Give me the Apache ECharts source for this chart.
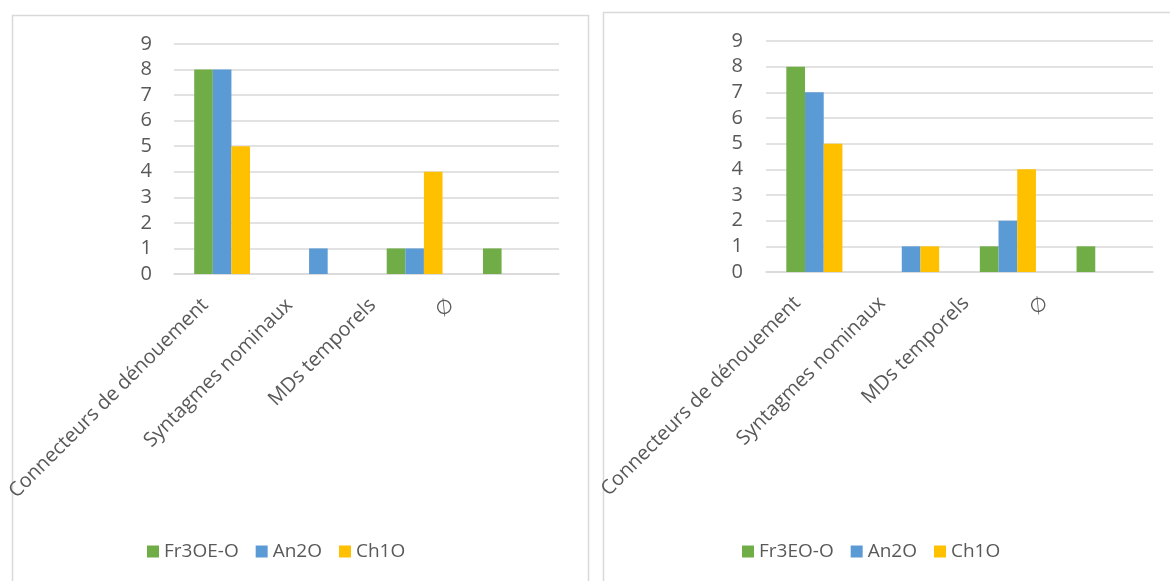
<!DOCTYPE html>
<html>
<head>
<meta charset="utf-8">
<script src="https://cdn.jsdelivr.net/npm/echarts@6/dist/echarts.min.js"></script>
<style>
html,body{margin:0;padding:0;background:#fff;}
#c{width:1170px;height:581px;}
</style>
</head>
<body>
<div id="c"></div>
<script>
// ---- data ----
const categories = ['Connecteurs de dénouement', 'Syntagmes nominaux', 'MDs temporels', '∅'];
const yTicks = [0, 1, 2, 3, 4, 5, 6, 7, 8, 9];

const leftNames = ['Fr3OE-O', 'An2O', 'Ch1O'];
const leftFr = [8, 0, 1, 1];
const leftAn = [8, 1, 1, 0];
const leftCh = [5, 0, 4, 0];

const rightNames = ['Fr3EO-O', 'An2O', 'Ch1O'];
const rightFr = [8, 0, 1, 1];
const rightAn = [7, 1, 2, 0];
const rightCh = [5, 1, 4, 0];

// ---- layout / style ----
const colors = ['#70AD47', '#5B9BD5', '#FFC000'];
const FONT = 'Open Sans';
const FS = 20;
const LFS = 19;
const TXT = '#595959';
const GRIDC = '#d9d9d9';
const labelShift = [17, 29, 42, 60]; // horizontal shift of rotated labels (Excel-style placement)

function richStyles() {
  const r = {};
  labelShift.forEach((d, i) => {
    const p = d / Math.SQRT2;
    r['s' + i] = { padding: [0, p, 2 * p, 0], color: TXT, fontFamily: FONT, fontSize: FS };
  });
  return r;
}

function xAxisCfg(gi) {
  return {
    type: 'category', gridIndex: gi, data: categories,
    axisLine: { show: true, lineStyle: { color: GRIDC, width: 1.5 } },
    axisTick: { show: false },
    axisLabel: {
      rotate: 45, interval: 0, margin: 28, color: TXT, fontFamily: FONT, fontSize: FS,
      formatter: (v, i) => '{s' + i + '|' + v + '}',
      rich: richStyles()
    }
  };
}
function yAxisCfg(gi, margin) {
  return {
    type: 'value', gridIndex: gi, min: yTicks[0], max: yTicks[yTicks.length - 1], interval: 1,
    axisLine: { show: false }, axisTick: { show: false },
    splitLine: { lineStyle: { color: GRIDC, width: 1.5 } },
    axisLabel: { margin: margin, color: TXT, fontFamily: FONT, fontSize: FS }
  };
}
function barSeries(name, data, idx, gi) {
  return {
    type: 'bar', name: name, data: data, xAxisIndex: gi, yAxisIndex: gi,
    barGap: '0%', barCategoryGap: '42%',
    itemStyle: { color: colors[idx] }
  };
}
function legendCfg(names, left) {
  return {
    data: names, left: left, top: 537, itemWidth: 12, itemHeight: 12, itemGap: 17,
    icon: 'rect',
    textStyle: { color: TXT, fontFamily: FONT, fontSize: LFS }
  };
}

const chart = echarts.init(document.getElementById('c'), null, { renderer: 'canvas' });
chart.setOption({
  animation: false,
  backgroundColor: '#fff',
  graphic: [
    { type: 'rect', shape: { x: 12.5, y: 15.5, width: 576, height: 640 }, style: { fill: 'none', stroke: GRIDC, lineWidth: 1.5 }, silent: true },
    { type: 'rect', shape: { x: 603.5, y: 12.5, width: 640, height: 640 }, style: { fill: 'none', stroke: GRIDC, lineWidth: 1.5 }, silent: true }
  ],
  grid: [
    { left: 174, top: 44, width: 385, height: 230 },
    { left: 766, top: 41, width: 387, height: 231 }
  ],
  xAxis: [xAxisCfg(0), xAxisCfg(1)],
  yAxis: [yAxisCfg(0, 22), yAxisCfg(1, 23)],
  legend: [legendCfg(leftNames, 142), legendCfg(rightNames, 737)],
  series: [
    barSeries(leftNames[0], leftFr, 0, 0),
    barSeries(leftNames[1], leftAn, 1, 0),
    barSeries(leftNames[2], leftCh, 2, 0),
    barSeries(rightNames[0], rightFr, 0, 1),
    barSeries(rightNames[1], rightAn, 1, 1),
    barSeries(rightNames[2], rightCh, 2, 1)
  ]
});
</script>
</body>
</html>
